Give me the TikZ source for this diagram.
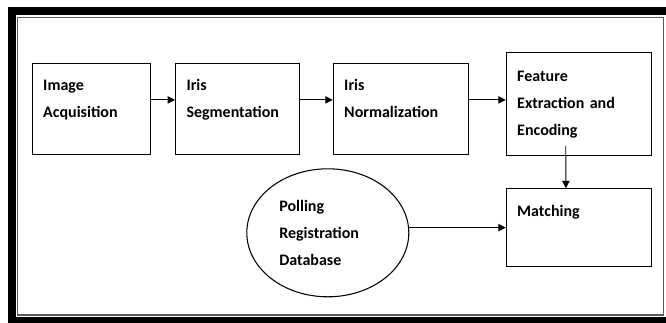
\documentclass[tikz,border=0pt]{standalone}
\usepackage{fontspec}
\setmainfont{Carlito}
\usetikzlibrary{shapes.geometric,arrows.meta}
\begin{document}
\begin{tikzpicture}[x=0.75pt, y=-0.75pt,
	stage/.style={draw, line width=0.8pt, rectangle, anchor=north west,
		inner xsep=8.25pt, inner ysep=0pt, align=left, text height=20.6pt,
		font=\bfseries\fontsize{12}{20.25}\selectfont},
	store/.style={draw, line width=0.8pt, ellipse, inner sep=0pt,
		minimum width=121.5pt, minimum height=96pt, text width=72.75pt, align=left,
		font=\bfseries\fontsize{12}{20.25}\selectfont},
	arr/.style={-{Triangle[length=5.5pt,width=5.5pt]}, line width=0.7pt}]
		\useasboundingbox (0,0) rectangle (666,323);

		\fill[black] (8,7) rectangle (666,15);
		\fill[black] (8,7) rectangle (16,323);
		\fill[black] (8,317) rectangle (666,323);
		\draw[black!65, line width=0.9pt] (17.5,17.5) rectangle (663.5,315);

		\node[stage, text width=72.5pt, text depth=47.9pt] (img) at (31.7,62.7) {Image\\Acquisition};
		\node[stage, text width=76.7pt, text depth=47.9pt] (seg) at (175,62.7) {Iris\\Segmentation};
		\node[stage, text width=84.75pt, text depth=47.9pt] (norm) at (332.7,62.7) {Iris\\Normalization};
		\node[stage, text width=92.25pt, text depth=55.4pt, text height=21.4pt] (feat) at (505.7,52.3) {Feature\\Extraction and\\Encoding};
		\node[stage, text width=92.5pt, text depth=37.6pt] (match) at (505.7,188.3) {Matching};

		\node[store] (db) at (327.8,232.8) {Polling\\Registration\\Database};

		\draw[arr] ([yshift=6.75pt]img.east) -- ([yshift=6.75pt]img.east -| seg.west);
		\draw[arr] ([yshift=6.75pt]seg.east) -- ([yshift=6.75pt]seg.east -| norm.west);
		\draw[arr] ([yshift=6.75pt]norm.east) -- ([yshift=6.75pt]norm.east -| feat.west);
		\draw[arr] ([xshift=-9.75pt,yshift=7.5pt]feat.south) -- ([xshift=-9.75pt]match.north);
		\draw[arr] (match.west -| db.east) -- (match.west);

	\end{tikzpicture}
\end{document}
